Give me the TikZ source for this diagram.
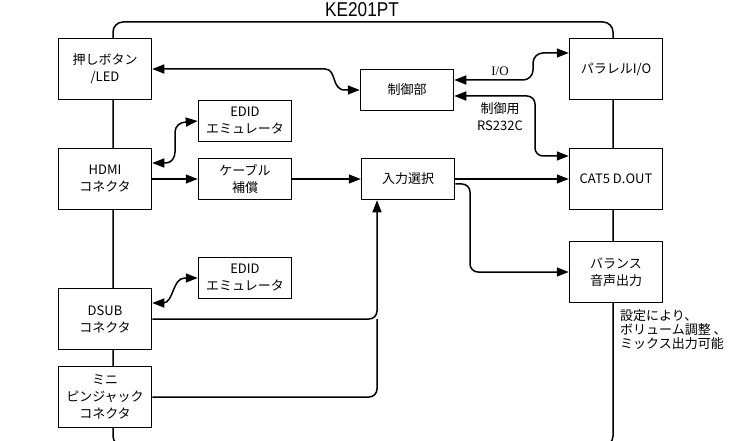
\documentclass[tikz,border=0pt]{standalone}
\usepackage{fontspec}
\setmainfont{Noto Sans CJK JP}
\newfontfamily\titlefont[FakeStretch=0.86]{Liberation Sans}
\newfontfamily\iofont{Liberation Serif}
\usetikzlibrary{arrows.meta,positioning}

\begin{document}
\begin{tikzpicture}[x=1pt, y=-1pt,
			bigbox/.style={rectangle, draw=black, line width=1.5pt, fill=white, minimum width=93pt, minimum height=61pt, inner sep=0pt, align=center, font=\fontsize{13}{17}\selectfont},
			smallbox/.style={bigbox, minimum height=41pt},
			arrow/.style={line width=1.5pt, -{Triangle[length=12pt,width=9pt]}},
			dblarrow/.style={line width=1.5pt, {Triangle[length=12pt,width=9pt]}-{Triangle[length=12pt,width=9pt]}}
		]
		\useasboundingbox (0,0) rectangle (742,441);
		\draw [line width=1.5pt, rounded corners=10pt] (113,22) rectangle (613,446);
		\node (title) [font=\titlefont\fontsize{20}{20}\selectfont, anchor=base, inner sep=0pt] at (362,16.5) {KE201PT};

		\node (btn)   [bigbox]   at (105,69)  {押しボタン\\/LED};
		\node (edid1) [smallbox] at (245,121) {EDID\\エミュレータ};
		\node (hdmi)  [bigbox]   at (105,179) {HDMI\\コネクタ};
		\node (cable) [smallbox] at (245,179) {ケーブル\\補償};
		\node (edid2) [smallbox] at (245,278) {EDID\\エミュレータ};
		\node (dsub)  [bigbox]   at (105,319) {DSUB\\コネクタ};
		\node (mini)  [bigbox]   at (105,397) {ミニ\\ピンジャック\\コネクタ};
		\node (ctrl)  [smallbox] at (407,90)  {制御部};
		\node (sel)   [smallbox] at (408,179) {入力選択};
		\node (par)   [bigbox]   at (616,69)  {パラレルI/O};
		\node (cat)   [bigbox]   at (616,179) {CAT5 D.OUT};
		\node (bal)   [bigbox]   at (616,272) {バランス\\音声出力};

		\node (io) [font=\iofont\fontsize{13}{13}\selectfont] at (500,71) {I/O};
		\node (rs) [align=center, font=\fontsize{13}{17}\selectfont] at (500,117) {制御用\\RS232C};
		\node (note) [anchor=north west, align=left, inner sep=0pt, font=\fontsize{13}{14}\selectfont] at (620,309) {設定により、\\ボリューム調整 、\\ミックス出力可能};

		\draw [dblarrow] (btn.east) -- (325,69) .. controls (337,69) and (331,90) .. (345,90) -- (ctrl.west);
		\draw [dblarrow] ([yshift=16pt]hdmi.east) -- (166,163) to[out=0,in=-90] (175,152) -- (175,132) to[out=90,in=180] (186,122) -- (edid1.west);
		\draw [arrow] (hdmi) -- (cable);
		\draw [arrow] (cable) -- (sel);
		\draw [arrow] (sel) -- (cat);
		\draw [arrow, rounded corners=8pt] ([yshift=-5pt]sel.east) -| (470,230) |- (bal.west);
		\draw [dblarrow] ([yshift=16pt]dsub.east) -- (163,303) .. controls (174,303) and (172,278) .. (185,278) -- (edid2.west);
		\coordinate (selin) at ([xshift=-31pt]sel.south);
		\draw [arrow, rounded corners=8pt] (dsub.east) -| (selin);
		\draw [line width=1.5pt, rounded corners=8pt] (mini.east) -| (selin |- dsub.east);
		\draw [dblarrow] ([yshift=10pt]ctrl.east) -- (523,80) to[out=0,in=-90] (533,70) -- (533,63) to[out=90,in=180] (543,53) -- ([yshift=16pt]par.west);
		\draw [dblarrow, rounded corners=8pt] ([yshift=-6pt]ctrl.east) -| (535,120) |- ([yshift=23pt]cat.west);

	\end{tikzpicture}
\end{document}
